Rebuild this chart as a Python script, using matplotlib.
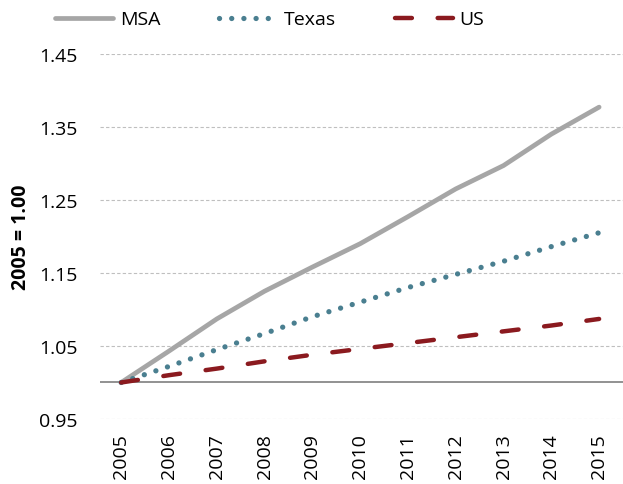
import numpy as np
import matplotlib.pyplot as plt

plt.rcParams['font.family'] = ['Open Sans', 'DejaVu Sans']

# Index values (2005 = 1.00)
years = ['2005', '2006', '2007', '2008', '2009', '2010',
         '2011', '2012', '2013', '2014', '2015']
msa = [1.000, 1.043, 1.087, 1.125, 1.158, 1.190, 1.227, 1.265, 1.297, 1.340, 1.377]
texas = [1.000, 1.022, 1.045, 1.067, 1.090, 1.110, 1.130, 1.148, 1.166, 1.186, 1.205]
us = [1.000, 1.010, 1.019, 1.029, 1.038, 1.046, 1.054, 1.062, 1.070, 1.078, 1.087]

x = np.arange(len(years))

fig = plt.figure(figsize=(6.23, 4.85), dpi=100)
ax = fig.add_axes([0.16, 0.134, 0.84, 0.753])

for y in [0.95, 1.05, 1.15, 1.25, 1.35, 1.45]:
    ax.axhline(y, color='#BFBFBF', lw=0.8, ls=(0, (3, 2)), zorder=0)
ax.axhline(1.0, color='#7F7F7F', lw=1.2, zorder=1)

ax.plot(x, msa, color='#A6A6A6', lw=3.4, solid_capstyle='round', label='MSA', zorder=3)
ax.plot(x, texas, color='#4A7F90', lw=3.8, ls=(0, (0.01, 2.3)),
        dash_capstyle='round', label='Texas', zorder=3)
ax.plot(x, us, color='#8B1A1F', lw=3.2, ls=(0, (3.8, 5.8)),
        dash_capstyle='round', label='US', zorder=4)

ax.set_ylim(0.95, 1.45)
ax.set_xlim(-0.45, 10.5)
ax.set_yticks([0.95, 1.05, 1.15, 1.25, 1.35, 1.45])
ax.set_yticklabels(['0.95', '1.05', '1.15', '1.25', '1.35', '1.45'], fontsize=14)
ax.set_xticks(x)
ax.set_xticklabels(years, rotation=90, fontsize=14)
ax.tick_params(axis='y', length=0, pad=16)
ax.tick_params(axis='x', length=0, pad=10)
for s in ax.spines.values():
    s.set_visible(False)

ax.set_ylabel('2005 = 1.00', fontsize=14, fontweight='bold', labelpad=6)

ax.legend(loc='center', bbox_to_anchor=(0.325, 1.094), ncol=3, frameon=False,
          fontsize=14, handlelength=3.0, columnspacing=3.0, handletextpad=0.35,
          borderaxespad=0)

fig.savefig('out.png', dpi=100)
